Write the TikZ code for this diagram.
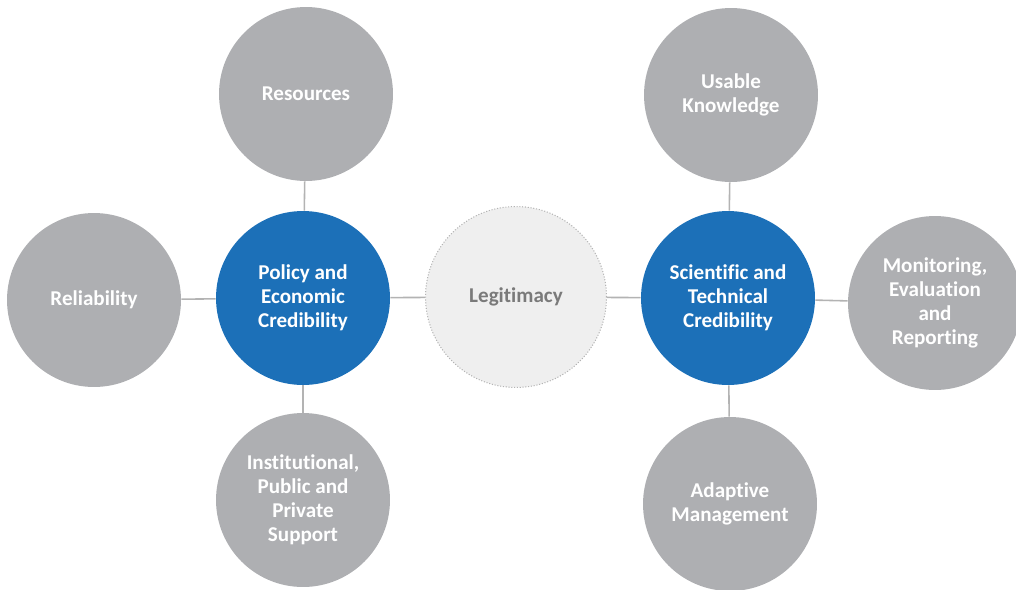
\documentclass[tikz,border=0pt]{standalone}
\usepackage{fontspec}
\setmainfont{Carlito}[Ligatures=NoCommon]
\usetikzlibrary{positioning}
\definecolor{outerfill}{HTML}{AEAFB2}
\definecolor{corefill}{HTML}{1C70B8}
\definecolor{legitfill}{HTML}{EFEFEF}
\definecolor{legitborder}{HTML}{B4B4B4}
\definecolor{legittext}{HTML}{7A7A7A}
\definecolor{linkline}{HTML}{B3B3B3}
\tikzset{
  bubble/.style={circle, align=center, inner sep=0pt, minimum size=3.48cm,
                 font=\fontsize{12}{13.6}\selectfont\bfseries, text=white},
  outer/.style={bubble, fill=outerfill},
  core/.style={bubble, fill=corefill},
  legit/.style={bubble, minimum size=3.62cm, fill=legitfill, draw=legitborder,
                densely dotted, line width=0.6pt, text=legittext},
  link/.style={draw=linkline, line width=0.9pt},
}

\begin{document}
\begin{tikzpicture}[x=0.02cm, y=-0.02cm]
\useasboundingbox (0,0) rectangle (1016,589);

% Centre and the two credibility hubs
\node[legit] (legit) at (516,297) {Legitimacy};
\node[core] (policy) at (303,298) {Policy and\\Economic\\Credibility};
\node[core] (science) at (728,298) {Scientific and\\Technical\\Credibility};

% Left hub
\node[outer] (resources) at (306,94) {Resources};
\node[outer] (reliab) at (94,300) {Reliability};
\node[outer] (support) at (303,500) {Institutional,\\Public and\\Private\\Support};

% Right hub
\node[outer] (usable) at (731,95) {Usable\\Knowledge};
\node[outer] (monitor) at (935,303) {Monitoring,\\Evaluation\\and\\Reporting};
\node[outer] (adaptive) at (730,504) {Adaptive\\Management};

% Links
\draw[link] (policy) -- (legit);
\draw[link] (legit) -- (science);
\foreach \n in {resources, reliab, support} {
  \draw[link] (\n) -- (policy);
}
\foreach \n in {usable, monitor, adaptive} {
  \draw[link] (\n) -- (science);
}

\end{tikzpicture}
\end{document}
